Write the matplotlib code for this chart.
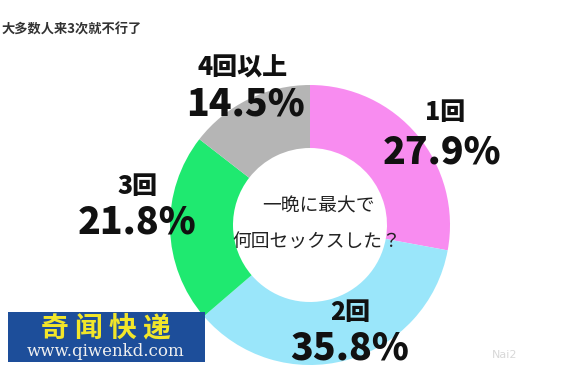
import matplotlib.pyplot as plt
from matplotlib.patches import Rectangle

# ----------------------------------------------------------
# Data
# ----------------------------------------------------------
title = "大多数人来3次就不行了"
center_lines = ["一晩に最大で", "何回セックスした？"]
labels = ["1回", "2回", "3回", "4回以上"]
values = [27.9, 35.8, 21.8, 14.5]
colors = ["#f88cf0", "#9ae6fa", "#1fe970", "#b5b5b5"]

W, H = 574, 367
jp = ["Noto Sans CJK JP", "DejaVu Sans"]
sc = ["Noto Sans CJK SC", "DejaVu Sans"]

fig = plt.figure(figsize=(W / 100, H / 100), dpi=100)
fig.patch.set_facecolor("white")
ax = fig.add_axes([0, 0, 1, 1])

# donut, clockwise from 12 o'clock
cx, cy, r = 310, H - 225, 140
ax.pie(
    values,
    colors=colors,
    startangle=90,
    counterclock=False,
    center=(cx, cy),
    radius=r,
    wedgeprops=dict(width=r * 0.45, linewidth=0),
)
ax.set_xlim(0, W)
ax.set_ylim(0, H)
ax.set_aspect("equal")
ax.axis("off")

# value labels (pixel positions from the top)
label_pos = [(445, 112, 442, 152),
             (350, 312, 350, 348),
             (138, 186, 137, 223),
             (243, 68, 245, 105)]
for lab, val, (lx, ly, vx, vy) in zip(labels, values, label_pos):
    ax.text(lx, H - ly, lab, ha="center", va="center",
            fontsize=18, fontweight="heavy", family=jp, color="#111111")
    ax.text(vx, H - vy, f"{val}%", ha="center", va="center",
            fontsize=27, fontweight="heavy", family=jp, color="#111111")

# question in the hole
ax.text(318, H - 206, center_lines[0], ha="center", va="center",
        fontsize=13.5, family=jp, color="#222222")
ax.text(317, H - 242, center_lines[1], ha="center", va="center",
        fontsize=13.5, family=jp, color="#222222")

# title
ax.text(2, H - 30, title, ha="left", va="center",
        fontsize=9.5, fontweight="bold", family=sc, color="#333333")

# site logo at the bottom left
ax.add_patch(Rectangle((8, H - 362), 197, 50, facecolor="#1d4e9a",
                       edgecolor="none", zorder=5))
ax.text(106, H - 328, "奇 闻 快 递", ha="center", va="center",
        fontsize=20, fontweight="heavy", family=sc, color="#f2e62a", zorder=6)
ax.text(106, H - 352, "www.qiwenkd.com", ha="center", va="center",
        fontsize=12, family="DejaVu Serif", color="#f0f0f0", zorder=6)

# faint watermark at the bottom right
ax.text(505, H - 355, "Nai2", ha="center", va="center",
        fontsize=8, color="#d8d8d8")

fig.savefig("out.png", dpi=100)
